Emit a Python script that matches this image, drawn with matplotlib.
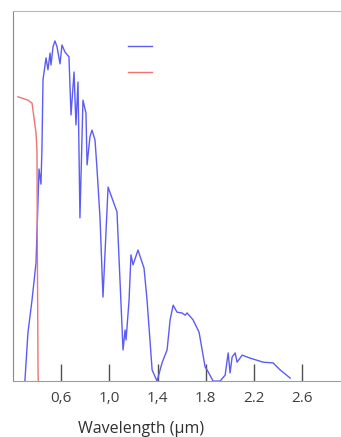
import matplotlib
matplotlib.use("Agg")
import matplotlib.pyplot as plt
from matplotlib.lines import Line2D

# 太陽光譜 (藍) 與 濾光曲線 (紅) — 數值由圖上估讀, 相對單位
sun_wl = [0.301, 0.326, 0.360, 0.393, 0.418, 0.434, 0.442, 0.451, 0.476, 0.492,
          0.509, 0.517, 0.534, 0.550, 0.567, 0.592, 0.608, 0.633, 0.666, 0.683,
          0.708, 0.724, 0.741, 0.757, 0.782, 0.807, 0.816, 0.840, 0.857, 0.882,
          0.899, 0.923, 0.948, 0.990, 1.064, 1.114, 1.131, 1.139, 1.164, 1.180,
          1.197, 1.238, 1.288, 1.313, 1.355, 1.396, 1.437, 1.479, 1.504, 1.529,
          1.562, 1.603, 1.628, 1.645, 1.695, 1.744, 1.794, 1.811, 1.860, 1.918,
          1.960, 1.985, 2.001, 2.018, 2.043, 2.059, 2.101, 2.167, 2.275, 2.358,
          2.416, 2.499]
sun_val = [0.000, 0.130, 0.219, 0.319, 0.573, 0.532, 0.624, 0.814, 0.873, 0.841,
           0.886, 0.854, 0.903, 0.919, 0.903, 0.857, 0.908, 0.889, 0.876, 0.719,
           0.835, 0.692, 0.808, 0.441, 0.759, 0.724, 0.584, 0.660, 0.678, 0.651,
           0.570, 0.443, 0.227, 0.524, 0.457, 0.084, 0.138, 0.111, 0.219, 0.341,
           0.314, 0.354, 0.305, 0.219, 0.030, 0.000, 0.049, 0.084, 0.165, 0.205,
           0.186, 0.184, 0.178, 0.184, 0.165, 0.132, 0.038, 0.030, 0.000, 0.000,
           0.016, 0.076, 0.022, 0.065, 0.076, 0.051, 0.070, 0.062, 0.051, 0.049,
           0.030, 0.008]

filt_wl = [0.243, 0.326, 0.360, 0.368, 0.393, 0.401, 0.405, 0.410, 0.412]
filt_val = [0.768, 0.759, 0.751, 0.732, 0.670, 0.624, 0.300, 0.020, 0.000]

tick_pos = [0.6, 1.0, 1.4, 1.8, 2.2, 2.6]
tick_lab = ["0,6", "1,0", "1,4", "1.8", "2.2", "2.6"]

blue = "#5c5cf5"
red = "#f07272"

fig = plt.figure(figsize=(3.41, 4.37), dpi=100)
ax = fig.add_axes([0.038, 0.128, 0.962, 0.847])

ax.plot(sun_wl, sun_val, color=blue, lw=1.0)
ax.plot(filt_wl, filt_val, color=red, lw=1.0)

ax.set_xlim(0.202, 2.92)
ax.set_ylim(0, 1)

ax.spines["right"].set_visible(False)
ax.spines["left"].set_color("#5f9e8f")
ax.spines["top"].set_color("#b8b8b8")
ax.spines["bottom"].set_color("#8aa8a0")

ax.set_yticks([])
ax.set_xticks(tick_pos)
ax.set_xticklabels(tick_lab, family="Open Sans", fontsize=11, color="#404040")
ax.tick_params(axis="x", direction="in", length=12, width=1, color="#505050", pad=7)

ax.set_xlabel("Wavelength (µm)", family="Open Sans", fontsize=11.5, color="#303030")
ax.xaxis.set_label_coords((141 - 13) / 328, -0.107)

handles = [Line2D([], [], color=blue, lw=1.0), Line2D([], [], color=red, lw=1.0)]
ax.legend(handles, [" ", " "], frameon=False, loc="upper left",
          bbox_to_anchor=(0.313, 0.955), handlelength=1.75, labelspacing=0.85,
          fontsize=10)

fig.savefig("out.png", dpi=100)
